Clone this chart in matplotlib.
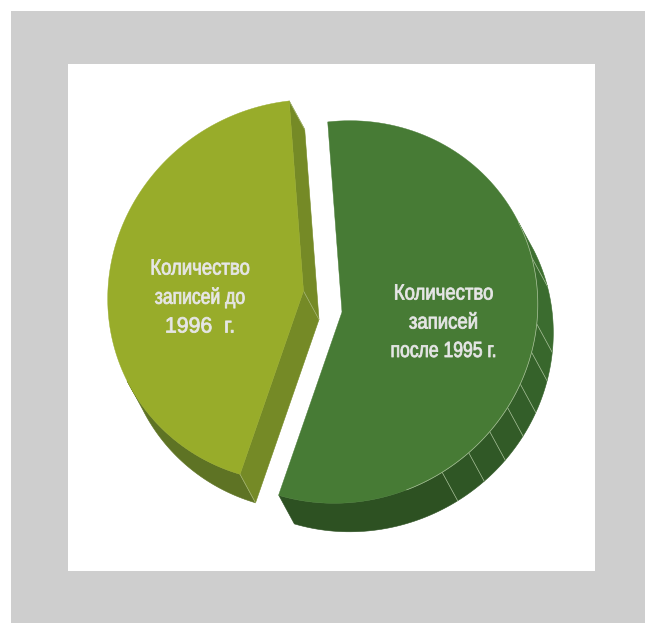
import numpy as np
import matplotlib
matplotlib.use('Agg')
import matplotlib.pyplot as plt
from matplotlib.patches import Polygon, Rectangle
from matplotlib.patheffects import AbstractPathEffect
from matplotlib.transforms import Affine2D

# shares of the two slices, percent
parts = ['green', 'olive']
values = [56.5, 43.5]
labels = [['Количество', 'записей', 'после 1995 г.'],
          ['Количество', 'записей до', '1996  г.']]

# seams on the green rim, degrees clockwise from the top
seams = [63, 74, 93.5, 102, 112, 120, 129, 138, 148, 199]
seam_cols = ['#3d6f30', '#3b6c2f', '#38672c', '#35622a', '#335e29',
             '#325b27', '#305826', '#2f5625', '#2d5122']

start = -4.3      # where the green slice begins
apex = {'green': (342, 312), 'olive': (303.5, 291)}
depth = (15.5, 28.5)
top_col = {'green': '#477b35', 'olive': '#98ac2a'}
cut_col = '#758a26'
rim_col = '#5e7324'
edge_col = '#a9c29a'

# the labels are set tight in the picture, this is how much each line shrinks
text_pos = {'green': (443.5, [294, 323, 351.5]), 'olive': (200, [269, 298, 327])}
squeeze = {'green': [0.845, 0.845, 0.80], 'olive': [0.845, 0.80, 0.97]}


class Squeeze(AbstractPathEffect):
    # narrows the glyphs around x (pixels) and thickens them a little
    def __init__(self, x, sx, lw=0.6):
        super().__init__()
        self.x, self.sx, self.lw = x, sx, lw

    def draw_path(self, renderer, gc, tpath, affine, rgbFace=None):
        tr = affine + Affine2D().translate(-self.x, 0).scale(self.sx, 1).translate(self.x, 0)
        gc0 = renderer.new_gc()
        gc0.copy_properties(gc)
        gc0.set_linewidth(self.lw)
        gc0.set_foreground(rgbFace)
        renderer.draw_path(gc0, tpath, tr, rgbFace)
        gc0.restore()


def arc(part, a0, a1, n=120, shift=(0, 0)):
    # tilted ellipse, angles clockwise from the top of the picture
    a, b, tilt = 198.0, 189.0, 60.0
    t = np.radians(np.linspace(a0, a1, n))
    d = t - np.radians(tilt)
    r = a * b / np.sqrt((b * np.cos(d)) ** 2 + (a * np.sin(d)) ** 2)
    x = apex[part][0] + r * np.sin(t) + shift[0]
    y = apex[part][1] - r * np.cos(t) + shift[1]
    return np.column_stack([x, y])


def rim(ax, part, a0, a1, col, z):
    top = arc(part, a0, a1, 40)
    low = arc(part, a0, a1, 40, depth)[::-1]
    ax.add_patch(Polygon(np.vstack([top, low]), fc=col, ec=col, lw=0.4, zorder=z))


fig = plt.figure(figsize=(6.45, 6.23), dpi=100)
ax = fig.add_axes([0, 0, 1, 1])
ax.set_xlim(0, 645)
ax.set_ylim(623, 0)
ax.axis('off')

ax.add_patch(Rectangle((11, 11), 634, 612, fc='#cecece', ec='none', zorder=0))
ax.add_patch(Rectangle((68, 64), 527, 507, fc='white', ec='none', zorder=1))

green_span = values[0] / sum(values) * 360
g0, g1 = start, start + green_span
o0, o1 = g1, start + 360

# olive slice, the part pulled out to the left
rim(ax, 'olive', o0, 243, rim_col, 2)
ol_apex = np.array(apex['olive'], float)
for edge_a in (o0, o1):
    p = arc('olive', edge_a, edge_a, 1)[0]
    quad = [ol_apex, p, p + depth, ol_apex + depth]
    ax.add_patch(Polygon(quad, fc=cut_col, ec=cut_col, lw=0.4, zorder=3))
    ax.plot([p[0], p[0] + depth[0]], [p[1], p[1] + depth[1]], color='#a8b878', lw=0.5, zorder=4)
ax.plot([ol_apex[0], ol_apex[0] + depth[0]], [ol_apex[1], ol_apex[1] + depth[1]],
        color='#a8b878', lw=0.5, zorder=4)
ol_top = np.vstack([[ol_apex], arc('olive', o0, o1)])
ax.add_patch(Polygon(ol_top, fc=top_col['olive'], ec=top_col['olive'], lw=0.3, zorder=5))

# green slice
for i, col in enumerate(seam_cols):
    rim(ax, 'green', seams[i], seams[i + 1], col, 2)
for a in seams[1:-1]:
    p = arc('green', a, a, 1)[0]
    ax.plot([p[0], p[0] + depth[0]], [p[1], p[1] + depth[1]], color=edge_col, lw=0.5, zorder=3)
gr_apex = np.array(apex['green'], float)
gr_top = np.vstack([[gr_apex], arc('green', g0, g1)])
ax.add_patch(Polygon(gr_top, fc=top_col['green'], ec=top_col['green'], lw=0.3, zorder=5))
hl = arc('green', seams[0], 160)
ax.plot(hl[:, 0], hl[:, 1], color=edge_col, lw=0.5, zorder=6)

# labels
for part, lines in zip(parts, labels):
    x, ys = text_pos[part]
    x_px = ax.transData.transform((x, 0))[0]
    for line, y, sx in zip(lines, ys, squeeze[part]):
        ax.text(x, y, line, family='Liberation Sans', fontsize=15.8, color='#e6e6e6',
                ha='center', va='center', zorder=7, path_effects=[Squeeze(x_px, sx)])

fig.savefig('out.png', dpi=100)
